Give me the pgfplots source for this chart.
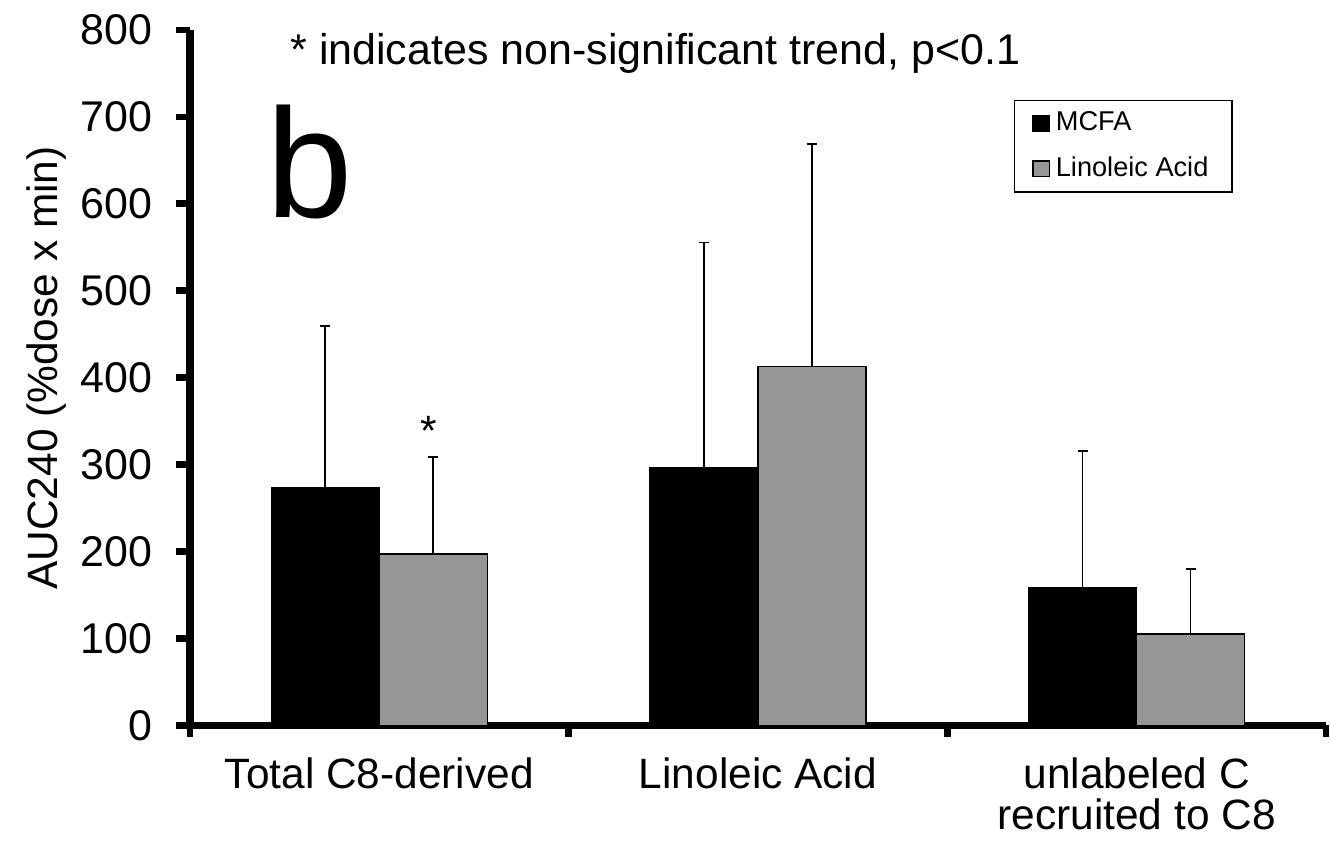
\documentclass[border=0pt]{standalone}
\usepackage{fontspec}
\setmainfont{Liberation Sans}
\usepackage{pgfplots}
\pgfplotsset{compat=1.18}
\definecolor{lagray}{RGB}{150,150,150}
\pgfplotstableread{
x y e
0 273.6 186.1
1 296.0 259.6
2 158.5 157.5
}\mcfa
\pgfplotstableread{
x y e
0 197.0 112.0
1 412.9 255.9
2 105.0 75.0
}\linol
\begin{document}
\begin{tikzpicture}
\begin{axis}[
  scale only axis,
  width=409.7pt, height=250.8pt,
  at={(0,0)}, anchor=south west,
  ybar=0pt, bar width=38.95pt,
  xmin=-0.5, xmax=2.5, ymin=0, ymax=800,
  axis x line=bottom, axis y line=left,
  axis line style={line width=2.6pt, -},
  every outer x axis line/.append style={line width=2.6pt},
  every outer y axis line/.append style={line width=2.6pt},
  /pgf/number format/assume math mode=true,
  xtick={0,1,2},
  xticklabels={Total C8-derived, Linoleic Acid, {unlabeled C\\recruited to C8}},
  xticklabel style={align=center, font=\fontsize{15.3}{14.8}\selectfont, yshift=-3.2pt},
  major x tick style={draw=none},
  minor xtick={-0.5,0.5,1.5,2.5},
  minor x tick style={line width=2.4pt, black},
  minor tick length=4.2pt,
  ytick={0,100,...,800},
  yticklabel style={font=\fontsize{15.5}{18}\selectfont, xshift=-5pt},
  major y tick style={line width=2.4pt, black},
  major tick length=4.9pt,
  tick align=outside,
  ylabel={AUC240 (\%dose x min)},
  ylabel style={at={(rel axis cs:-0.117,0.514)}, anchor=base, rotate=0, font=\fontsize{15.3}{18}\selectfont},
  legend image code/.code={\draw[#1, line width=0.5pt] (0pt,-2.8pt) rectangle (6pt,2.8pt);},
  legend style={at={(0.725,0.8995)}, anchor=north west, draw=black, line width=0.5pt,
    font=\fontsize{9.8}{11}\selectfont, cells={anchor=west}, row sep=4pt,
    inner xsep=6.5pt, inner ysep=2pt},
  clip=false,
]
\addplot[fill=black, draw=black, line width=0.5pt,
  error bars/.cd, y dir=plus, y explicit,
  error bar style={line width=0.6pt, black},
  error mark options={rotate=90, mark size=1.8pt, line width=0.6pt, black}]
  table[x=x, y=y, y error=e] {\mcfa};
\addlegendentry{MCFA}
\addplot[fill=lagray, draw=black, line width=0.5pt,
  error bars/.cd, y dir=plus, y explicit,
  error bar style={line width=0.6pt, black},
  error mark options={rotate=90, mark size=1.8pt, line width=0.6pt, black}]
  table[x=x, y=y, y error=e] {\linol};
\addlegendentry{Linoleic Acid}
\node[anchor=base west, inner sep=0pt, font=\fontsize{15.5}{18}\selectfont] at (rel axis cs:0.088,0.950) {* indicates non-significant trend, p<0.1};
\node[anchor=base west, inner sep=0pt, font=\fontsize{56}{60}\selectfont] at (rel axis cs:0.0670,0.7297) {b};
\node[anchor=base, inner sep=0pt, xshift=18pt, font=\fontsize{15.3}{18}\selectfont] at (axis cs:0,322) {*};
\end{axis}
\pgfresetboundingbox
\path[use as bounding box] (-68.5pt,-43.1pt) rectangle (411.5pt,261.6pt);
\end{tikzpicture}
\end{document}
